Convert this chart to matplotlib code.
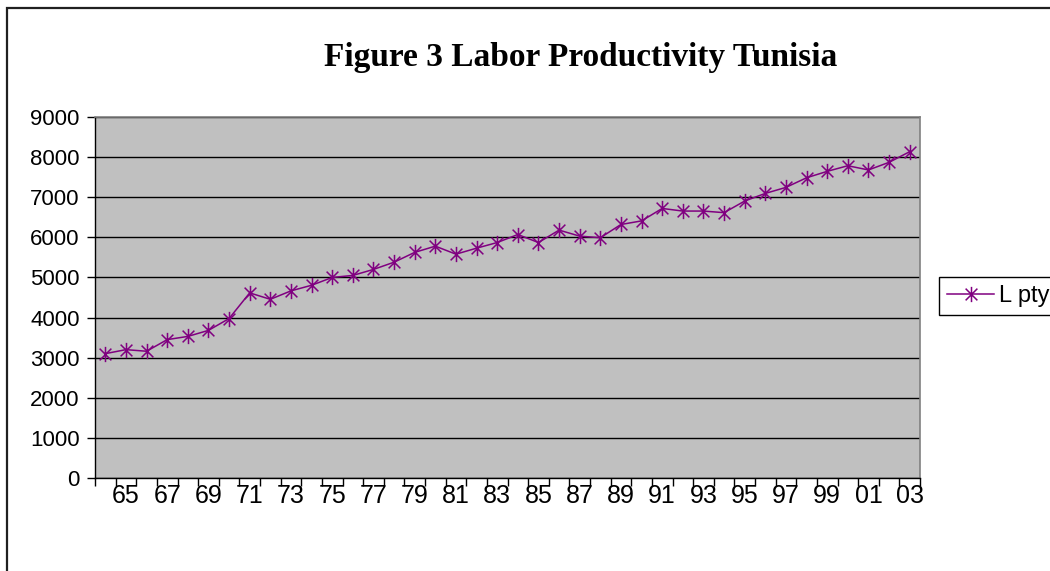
import matplotlib
matplotlib.use("Agg")
import matplotlib.pyplot as plt
from matplotlib.path import Path
from matplotlib.patches import Rectangle

# Labor productivity, Tunisia (one value per year)
years = list(range(1964, 2004))
l_pty = [3100, 3200, 3160, 3450, 3530, 3680, 3975, 4615, 4455, 4665,
         4805, 5000, 5050, 5200, 5380, 5625, 5780, 5580, 5730, 5870,
         6070, 5870, 6180, 6030, 5990, 6320, 6410, 6720, 6655, 6655,
         6615, 6905, 7095, 7245, 7485, 7645, 7785, 7680, 7870, 8135]
tick_years = [y for y in years if y % 2 == 1]
tick_labels = [str(y)[2:] for y in tick_years]

plt.rcParams['font.family'] = ['Liberation Sans', 'DejaVu Sans']

# Excel-like star marker: an X with a vertical bar
star = Path([(-1, -1), (1, 1), (-1, 1), (1, -1), (0, -1.3), (0, 1.3)],
            [Path.MOVETO, Path.LINETO, Path.MOVETO, Path.LINETO, Path.MOVETO, Path.LINETO])

fig = plt.figure(figsize=(10.5, 5.71), dpi=100)
fig.patches.append(Rectangle((7 / 1050, -0.1), 1.2, 1 - 7.5 / 571 + 0.1, transform=fig.transFigure,
                             fill=False, edgecolor='#202020', linewidth=1.6))

ax = fig.add_axes([95 / 1050, 1 - 478 / 571, 825 / 1050, 361 / 571])
ax.set_facecolor('#C0C0C0')

x = list(range(len(years)))
ax.plot(x, l_pty, color='#800080', linewidth=1.1, marker=star, markersize=11,
        markeredgewidth=1.1, markeredgecolor='#800080', label='L pty')

ax.set_xlim(-0.5, len(years) - 0.5)
ax.set_ylim(0, 9000)
ax.set_yticks(range(0, 9001, 1000))
ax.yaxis.grid(True, color='black', linewidth=1)
ax.set_axisbelow(True)

ax.set_xticks([years.index(y) for y in tick_years])
ax.set_xticklabels(tick_labels, fontsize=18)
ax.set_xticks([i - 0.5 for i in range(len(years) + 1)], minor=True)
ax.tick_params(axis='x', which='major', length=0, pad=4)
ax.tick_params(axis='x', which='minor', length=6, width=1, direction='out')
ax.tick_params(axis='y', labelsize=16, length=6, width=1, pad=5)

for s in ['left', 'bottom']:
    ax.spines[s].set_color('black')
    ax.spines[s].set_linewidth(1)
for s in ['top', 'right']:
    ax.spines[s].set_color('#808080')
    ax.spines[s].set_linewidth(1.2)

fig.text(0.553, 1 - 65.6 / 571, 'Figure 3 Labor Productivity Tunisia', ha='center', va='baseline',
         fontsize=24, fontweight='bold', family='Liberation Serif')

leg = fig.legend(loc='center left', bbox_to_anchor=(939 / 1050, 1 - 296 / 571), fontsize=17,
                 frameon=True, fancybox=False, edgecolor='black', framealpha=1,
                 handlelength=2.0, handletextpad=0.2, borderpad=0.35, borderaxespad=0)
leg.get_frame().set_linewidth(1)

fig.savefig('out.png', dpi=100)
